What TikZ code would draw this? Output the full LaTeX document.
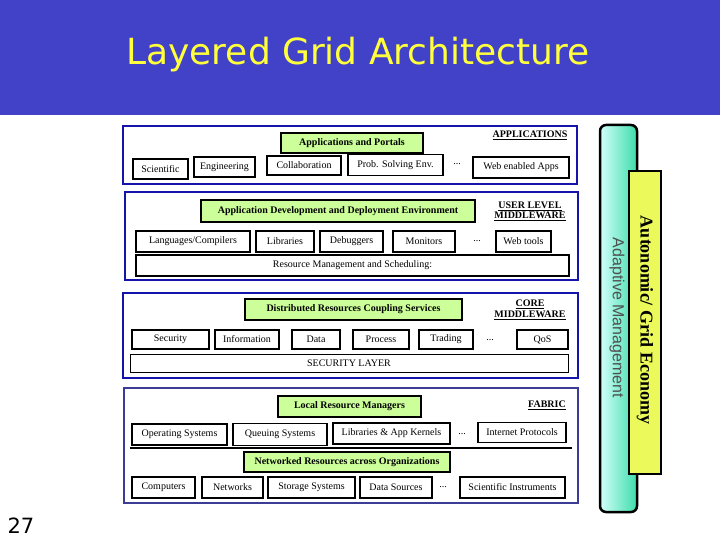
\documentclass[tikz,border=0pt]{standalone}
\usepackage{fontspec}
\setmainfont{Liberation Serif}
\newfontfamily\verdanafont{DejaVu Sans}
\newfontfamily\arialfont{Liberation Sans}
\definecolor{titleblue}{RGB}{66,66,200}
\definecolor{titleyellow}{RGB}{255,255,60}
\definecolor{layerblue}{RGB}{20,20,170}
\definecolor{fabricblue}{RGB}{60,60,150}
\definecolor{lgreen}{RGB}{204,255,153}
\definecolor{cylleft}{RGB}{210,255,250}
\definecolor{cylright}{RGB}{60,220,170}
\definecolor{econyellow}{RGB}{235,250,90}
\definecolor{adaptgray}{RGB}{80,80,80}
\begin{document}
\begin{tikzpicture}[x=1pt,y=-1pt,
  smallbox/.style={draw=black, line width=1.7pt, fill=white, inner sep=0pt,
    font=\fontsize{10}{12}\selectfont},
  greenbox/.style={draw=black, line width=1.7pt, fill=lgreen, inner sep=0pt,
    font=\bfseries\fontsize{10}{12}\selectfont},
  layerbox/.style={draw=layerblue, line width=2.8pt, fill=white},
  lbl/.style={inner sep=0pt, font=\bfseries\fontsize{10}{11}\selectfont, align=center},
  dots/.style={inner sep=0pt, font=\fontsize{10}{12}\selectfont}
]
\useasboundingbox (0,0) rectangle (720,540);
\fill[white] (0,0) rectangle (720,540);
% title bar
\fill[titleblue] (0,0) rectangle (720,115);
\node[text=titleyellow, font=\verdanafont\fontsize{36}{40}\selectfont] (title) at (358,55) {Layered Grid Architecture};

% ---------- Layer 1: Applications
\node[layerbox, minimum width=454pt, minimum height=58pt] (L1) at (350,155) {};
\node[greenbox, minimum width=142pt, minimum height=20pt] (ap) at (352,143) {Applications and Portals};
\node[lbl] (applbl) at (530,135) {\underline{APPLICATIONS}};
\node[smallbox, minimum width=55pt, minimum height=20pt] (sci) at (160.5,169) {Scientific};
\node[smallbox, minimum width=61pt, minimum height=20pt] (eng) at (224.5,167) {Engineering};
\node[smallbox, minimum width=74pt, minimum height=19pt] (col) at (304,165.5) {Collaboration};
\node[smallbox, minimum width=95pt, minimum height=21pt] (pse) at (395.5,165) {Prob. Solving Env.};
\node[dots] (d1) at (457,164) {...};
\node[smallbox, minimum width=96pt, minimum height=21pt] (web) at (521,167.5) {Web enabled Apps};

% ---------- Layer 2: User level middleware
\node[layerbox, minimum width=453pt, minimum height=88pt] (L2) at (351.5,236) {};
\node[greenbox, minimum width=274pt, minimum height=22pt] (adde) at (338,211) {Application Development and Deployment Environment};
\node[lbl] (ulm) at (530,211.5) {\underline{USER LEVEL}\\[-0.5pt]\underline{MIDDLEWARE}};
\node[smallbox, minimum width=114pt, minimum height=21pt] (lang) at (193,241.5) {Languages/Compilers};
\node[smallbox, minimum width=58pt, minimum height=21pt] (lib) at (285,241.5) {Libraries};
\node[smallbox, minimum width=63pt, minimum height=21pt] (dbg) at (351.5,241.5) {Debuggers};
\node[smallbox, minimum width=62pt, minimum height=21pt] (mon) at (424,241.5) {Monitors};
\node[dots] (d2) at (477,241) {...};
\node[smallbox, minimum width=55pt, minimum height=21pt] (wt) at (523.5,241.5) {Web tools};
\node[smallbox, minimum width=433pt, minimum height=21pt] (rms) at (352.5,265.5) {Resource Management and Scheduling:};

% ---------- Layer 3: Core middleware
\node[layerbox, minimum width=455pt, minimum height=85pt] (L3) at (350.5,335.5) {};
\node[greenbox, minimum width=217pt, minimum height=21pt] (drcs) at (353.5,309.5) {Distributed Resources Coupling Services};
\node[lbl] (cm) at (530,310) {\underline{CORE}\\[-0.5pt]\underline{MIDDLEWARE}};
\node[smallbox, minimum width=77pt, minimum height=19pt] (sec) at (170.5,339.5) {Security};
\node[smallbox, minimum width=64pt, minimum height=19pt] (inf) at (247,339.5) {Information};
\node[smallbox, minimum width=48pt, minimum height=19pt] (dat) at (316,339.5) {Data};
\node[smallbox, minimum width=56pt, minimum height=19pt] (proc) at (381,339.5) {Process};
\node[smallbox, minimum width=54pt, minimum height=19pt] (trad) at (446,339.5) {Trading};
\node[dots] (d3) at (490,340) {...};
\node[smallbox, minimum width=51pt, minimum height=19pt] (qos) at (542.5,339.5) {QoS};
\node[smallbox, line width=0.9pt, minimum width=438pt, minimum height=18pt] (secl) at (349,363) {SECURITY LAYER};

% ---------- Layer 4: Fabric
\node[layerbox, draw=fabricblue, minimum width=454pt, minimum height=115pt] (L4) at (351,445.5) {};
\coordinate (fl) at (130,448);
\coordinate (fr) at (572,448);
\draw[line width=1.5pt] (fl) -- (fr);
\node[greenbox, minimum width=143pt, minimum height=21pt] (lrm) at (349.5,406.5) {Local Resource Managers};
\node[lbl] (fab) at (547,405) {\underline{FABRIC}};
\node[smallbox, minimum width=95pt, minimum height=21pt] (os) at (179.5,434.5) {Operating Systems};
\node[smallbox, minimum width=94pt, minimum height=22pt] (qs) at (280,434.5) {Queuing Systems};
\node[smallbox, minimum width=117pt, minimum height=21pt] (lak) at (391.5,433.5) {Libraries \& App Kernels};
\node[dots] (d4) at (462,434) {...};
\node[smallbox, minimum width=88pt, minimum height=20pt] (ip) at (522,432.5) {Internet Protocols};
\node[greenbox, minimum width=206pt, minimum height=20pt] (nro) at (347,462) {Networked Resources across Organizations};
\node[smallbox, minimum width=63pt, minimum height=21pt] (comp) at (163.5,487.5) {Computers};
\node[smallbox, minimum width=61pt, minimum height=21pt] (net) at (232.5,487.5) {Networks};
\node[smallbox, minimum width=87pt, minimum height=21pt] (stor) at (311.5,487.5) {Storage Systems};
\node[smallbox, minimum width=72pt, minimum height=21pt] (dsrc) at (396,487.5) {Data Sources};
\node[dots] (d5) at (443,487) {...};
\node[smallbox, minimum width=105pt, minimum height=21pt] (sinst) at (512.5,487.5) {Scientific Instruments};

% ---------- right side bars
\node[draw=black, line width=2.5pt, rounded corners=6pt, left color=cylleft, right color=cylright,
  minimum width=37pt, minimum height=387pt, inner sep=0pt] (cyl) at (618.5,318.5) {};
\node[rotate=-90, text=adaptgray, inner sep=0pt, font=\arialfont\fontsize{16}{18}\selectfont] (adapt) at (617,318) {Adaptive Management};
\node[draw=black, line width=2pt, fill=econyellow, minimum width=32pt, minimum height=303pt, inner sep=0pt] (econ) at (645,322.5) {};
\node[rotate=-90, inner sep=0pt, font=\bfseries\fontsize{18}{20}\selectfont] (econtxt) at (645,320) {Autonomic/ Grid Economy};

% page number
\node[font=\verdanafont\fontsize{21}{24}\selectfont, inner sep=0pt] (pg) at (21,526) {27};
\end{tikzpicture}
\end{document}
